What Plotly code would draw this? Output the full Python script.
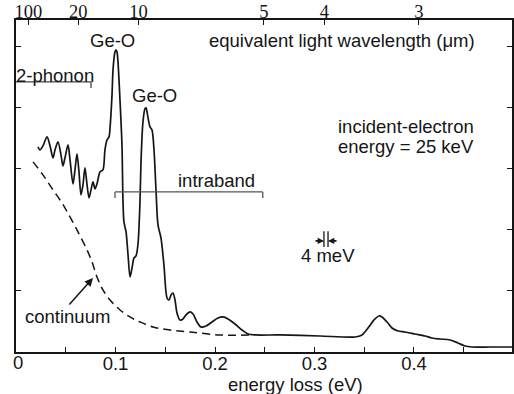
import plotly.graph_objects as go

# ---- data ----
energy = [0.0221, 0.0241, 0.0271, 0.0312, 0.0342, 0.0372, 0.0392, 0.0422, 0.0452, 0.0472,
          0.0492, 0.0523, 0.0543, 0.0573, 0.0593, 0.0613, 0.0633, 0.0653, 0.0673, 0.0693,
          0.0714, 0.0734, 0.0754, 0.0774, 0.0794, 0.0814, 0.0844, 0.0874, 0.0894, 0.0915,
          0.0935, 0.0945, 0.0965, 0.0975, 0.0995, 0.1005, 0.1015, 0.1025, 0.1045, 0.1065,
          0.1075, 0.1085, 0.1106, 0.1126, 0.1146, 0.1166, 0.1186, 0.1206, 0.1226, 0.1246,
          0.1256, 0.1276, 0.1296, 0.1307, 0.1327, 0.1347, 0.1367, 0.1387, 0.1407, 0.1427,
          0.1457, 0.1487, 0.1518, 0.1538, 0.1558, 0.1578, 0.1598, 0.1618, 0.1648, 0.1678,
          0.1709, 0.1749, 0.1779, 0.1819, 0.1859, 0.1910, 0.1970, 0.2030, 0.2080, 0.2131,
          0.2201, 0.2271, 0.2332, 0.2402, 0.2653, 0.3055, 0.3407, 0.3477, 0.3538, 0.3598,
          0.3648, 0.3678, 0.3729, 0.3779, 0.3839, 0.3910, 0.4010, 0.4111, 0.4181, 0.4261,
          0.4362, 0.4442, 0.4513, 0.4583, 0.4764, 0.4985]
intensity = [3.361, 3.311, 3.377, 3.525, 3.377, 3.180, 3.311, 3.443, 3.230, 3.049,
             3.180, 3.393, 3.148, 2.754, 2.984, 3.246, 2.951, 2.574, 2.738, 3.016,
             2.738, 2.525, 2.656, 2.787, 2.672, 2.754, 2.951, 2.984, 3.311, 3.475,
             3.525, 3.672, 4.213, 4.623, 4.918, 4.951, 4.918, 4.754, 4.131, 3.393,
             2.492, 2.131, 1.967, 1.590, 1.230, 1.377, 1.541, 1.574, 1.770, 2.459,
             3.100, 3.770, 3.984, 4.000, 3.836, 3.689, 3.639, 3.311, 2.656, 2.082,
             1.869, 1.426, 0.885, 0.852, 0.934, 0.967, 0.852, 0.639, 0.525, 0.541,
             0.607, 0.656, 0.623, 0.492, 0.410, 0.426, 0.492, 0.557, 0.574, 0.541,
             0.459, 0.361, 0.295, 0.279, 0.279, 0.262, 0.246, 0.279, 0.393, 0.525,
             0.590, 0.574, 0.492, 0.393, 0.344, 0.328, 0.295, 0.262, 0.230, 0.213,
             0.197, 0.148, 0.098, 0.082, 0.082, 0.082]

cont_energy = [0.0171, 0.0271, 0.0372, 0.0462, 0.0543, 0.0623, 0.0714, 0.0764, 0.0814,
               0.0874, 0.0945, 0.1045, 0.1146, 0.1246, 0.1377, 0.1548, 0.1749, 0.2050, 0.2352]
cont_intensity = [3.115, 2.902, 2.656, 2.443, 2.213, 1.967, 1.672, 1.475, 1.230,
                  1.016, 0.852, 0.689, 0.574, 0.492, 0.410, 0.361, 0.328, 0.279, 0.279]

x_tickvals = [0.0, 0.05, 0.1, 0.15, 0.2, 0.25, 0.3, 0.35, 0.4, 0.45]
x_ticktext = ["", "", "0.1", "", "0.2", "", "0.3", "", "0.4", ""]
wl_labels = ["100", "20", "10", "5", "4", "3"]
wl_positions = [0.0125, 0.0625, 0.123, 0.249, 0.310, 0.405]
y_tickvals = [1, 2, 3, 4, 5]

intraband_range = [0.0995, 0.248]
phonon_range = [0.0, 0.0754]

X_RANGE = [0, 0.4985]
Y_RANGE = [0, 5.44]

SANS = "Liberation Sans, Arial, sans-serif"
SERIF = "Liberation Serif, Times New Roman, serif"
INK = "#151515"
FS = 18.5

fig = go.Figure()
fig.add_trace(go.Scatter(x=cont_energy, y=cont_intensity, mode="lines",
                         line=dict(color=INK, width=1.5, dash="8px,5px", shape="spline"),
                         hoverinfo="skip", showlegend=False))
fig.add_trace(go.Scatter(x=energy, y=intensity, mode="lines",
                         line=dict(color=INK, width=1.7, shape="spline", smoothing=0.8),
                         hoverinfo="skip", showlegend=False))
# invisible trace to anchor the top (wavelength) axis
fig.add_trace(go.Scatter(x=X_RANGE, y=Y_RANGE, xaxis="x2", mode="markers",
                         marker=dict(opacity=0), hoverinfo="skip", showlegend=False))

# brackets
by = 2.623
fig.add_shape(type="line", x0=intraband_range[0], x1=intraband_range[1], y0=by, y1=by,
              line=dict(color="#555", width=1.3))
for xe in intraband_range:
    fig.add_shape(type="line", x0=xe, x1=xe, y0=by, y1=by - 0.1, line=dict(color="#555", width=1.3))
py_ = 4.426
fig.add_shape(type="line", x0=phonon_range[0], x1=phonon_range[1], y0=py_, y1=py_,
              line=dict(color="#444", width=1.3))
fig.add_shape(type="line", x0=phonon_range[1], x1=phonon_range[1], y0=py_, y1=py_ - 0.1,
              line=dict(color="#444", width=1.3))

# resolution marker
fig.add_shape(type="line", x0=0.3095, x1=0.3095, y0=1.72, y1=1.98, line=dict(color=INK, width=1.3))
fig.add_shape(type="line", x0=0.3136, x1=0.3136, y0=1.72, y1=1.98, line=dict(color=INK, width=1.3))

ann = []
def txt(x, y, s, size=FS, **kw):
    ann.append(dict(x=x, y=y, text=s, showarrow=False, xref="x", yref="y",
                    font=dict(family=SANS, size=size, color=INK), **kw))

txt(0.0965, 5.10, "Ge-O")
txt(0.1387, 4.20, "Ge-O")
txt(0.0392, 4.53, "2-phonon")
txt(0.3276, 5.10, "equivalent light wavelength (μm)")
txt(0.392, 3.70, "incident-electron")
txt(0.392, 3.37, "energy = 25 keV")
txt(0.202, 2.81, "intraband")
txt(0.0513, 0.58, "continuum")
txt(0.3136, 1.58, "4 meV")

# arrows
ann.append(dict(x=0.0774, y=1.213, ax=0.0523, ay=0.754, xref="x", yref="y", axref="x", ayref="y",
                showarrow=True, arrowhead=2, arrowsize=1.1, arrowwidth=1.5, arrowcolor=INK, text=""))
ann.append(dict(x=0.3095, y=1.82, ax=0.2995, ay=1.82, xref="x", yref="y", axref="x", ayref="y",
                showarrow=True, arrowhead=2, arrowsize=0.7, arrowwidth=1.8, arrowcolor=INK, text=""))
ann.append(dict(x=0.3136, y=1.82, ax=0.3236, ay=1.82, xref="x", yref="y", axref="x", ayref="y",
                showarrow=True, arrowhead=2, arrowsize=0.7, arrowwidth=1.8, arrowcolor=INK, text=""))
# "0" label at the origin
ann.append(dict(x=-0.01, y=-0.033, text="0", showarrow=False, xref="paper", yref="paper",
                yanchor="middle", font=dict(family=SANS, size=FS, color=INK)))
# x-axis title
ann.append(dict(x=0.563, y=-0.097, text="energy loss (eV)", showarrow=False, xref="paper", yref="paper",
                yanchor="middle", font=dict(family=SANS, size=FS, color=INK)))

fig.update_layout(
    width=514, height=394, autosize=False,
    margin=dict(l=16, r=2, t=20, b=42),
    paper_bgcolor="white", plot_bgcolor="white",
    annotations=ann,
    xaxis=dict(range=X_RANGE, tickvals=x_tickvals, ticktext=x_ticktext, ticks="inside", automargin=False,
               ticklen=5, tickwidth=1.3, tickcolor=INK, showline=True, linecolor=INK, linewidth=1.6,
               ticklabelstandoff=-6,
               showgrid=False, zeroline=False, tickfont=dict(family=SANS, size=FS, color=INK)),
    xaxis2=dict(range=X_RANGE, overlaying="x", side="top", tickvals=wl_positions, ticktext=wl_labels,
                ticks="inside", ticklen=5, tickwidth=1.3, tickcolor=INK, showline=True, linecolor=INK,
                linewidth=1.6, showgrid=False, zeroline=False, automargin=False, ticklabelstandoff=-7,
                tickfont=dict(family=SERIF, size=FS, color=INK)),
    yaxis=dict(range=Y_RANGE, tickvals=y_tickvals, showticklabels=False, ticks="inside", ticklen=5,
               tickwidth=1.3, tickcolor=INK, showline=True, mirror="ticks", linecolor=INK, linewidth=1.6,
               showgrid=False, zeroline=False, automargin=False),
)

fig.write_html("out.html", config={"displayModeBar": False},
               post_script="document.body.style.margin='0px';document.body.style.overflow='hidden';")
